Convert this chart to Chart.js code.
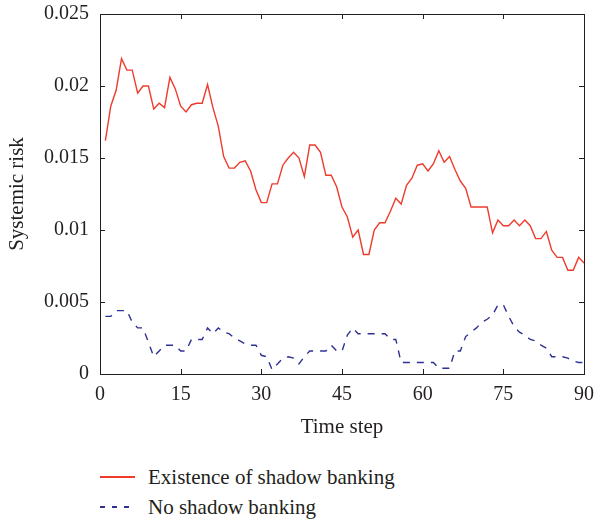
<!DOCTYPE html>
<html>
<head>
<meta charset="utf-8">
<script src="https://cdn.jsdelivr.net/npm/chart.js@4.4.1/dist/chart.umd.min.js"></script>
<style>
  html, body { margin: 0; padding: 0; background: #fff; }
  #wrap { position: relative; width: 595px; height: 523px; }
  #chartBox { position: absolute; left: 0; top: 0; width: 595px; height: 445px; }
  .legend-row {
    position: absolute; left: 100px; height: 24px;
    display: flex; align-items: center;
    font: 21px 'Liberation Serif', serif; color: #231f20;
  }
  .legend-line { width: 35px; height: 1.5px; margin-right: 13px; }
</style>
</head>
<body>
<div id="wrap">
  <div id="chartBox"><canvas id="riskChart"></canvas></div>
  <div id="riskLegend"></div>
</div>
<script>
// time steps 1..90
const steps = Array.from({ length: 90 }, (_, i) => i + 1);

const withShadow = [
  0.0162, 0.0186, 0.0197, 0.0219, 0.0211, 0.0211, 0.0195, 0.0200, 0.0200, 0.0184,
  0.0188, 0.0185, 0.0206, 0.0198, 0.0186, 0.0182, 0.0187, 0.0188, 0.0188, 0.0201,
  0.0185, 0.0172, 0.0151, 0.0143, 0.0143, 0.0147, 0.0148, 0.0141, 0.0128, 0.0119,
  0.0119, 0.0132, 0.0132, 0.0145, 0.0150, 0.0154, 0.0150, 0.0137, 0.0159, 0.0159,
  0.0154, 0.0138, 0.0138, 0.0130, 0.0116, 0.0109, 0.0095, 0.0100, 0.0083, 0.0083,
  0.0100, 0.0105, 0.0105, 0.0113, 0.0122, 0.0118, 0.0131, 0.0136, 0.0145, 0.0146,
  0.0141, 0.0146, 0.0155, 0.0147, 0.0151, 0.0142, 0.0134, 0.0129, 0.0116, 0.0116,
  0.0116, 0.0116, 0.0098, 0.0107, 0.0103, 0.0103, 0.0107, 0.0103, 0.0107, 0.0103,
  0.0094, 0.0094, 0.0099, 0.0086, 0.0081, 0.0081, 0.0072, 0.0072, 0.0081, 0.0077
];

const noShadow = [
  0.0040, 0.0040, 0.0044, 0.0044, 0.0044, 0.0036, 0.0032, 0.0032, 0.0022, 0.0012,
  0.0016, 0.0020, 0.0020, 0.0020, 0.0016, 0.0016, 0.0024, 0.0024, 0.0024, 0.0032,
  0.0028, 0.0032, 0.0029, 0.0028, 0.0025, 0.0023, 0.0021, 0.0020, 0.0020, 0.0013,
  0.0012, 0.0003, 0.0007, 0.0011, 0.0012, 0.0011, 0.0007, 0.0012, 0.0016, 0.0016,
  0.0016, 0.0016, 0.0020, 0.0016, 0.0016, 0.0027, 0.0032, 0.0028, 0.0028, 0.0028,
  0.0028, 0.0028, 0.0028, 0.0024, 0.0024, 0.0008, 0.0008, 0.0008, 0.0008, 0.0008,
  0.0008, 0.0008, 0.0004, 0.0004, 0.0004, 0.0016, 0.0016, 0.0026, 0.0029, 0.0032,
  0.0036, 0.0038, 0.0041, 0.0048, 0.0048, 0.0040, 0.0033, 0.0029, 0.0027, 0.0024,
  0.0023, 0.0020, 0.0018, 0.0012, 0.0012, 0.0012, 0.0011, 0.0009, 0.0008, 0.0008
];

const xTicks = [0, 15, 30, 45, 60, 75, 90];
const yTicks = [0, 0.005, 0.01, 0.015, 0.02, 0.025];

const seriesLabels = ['Existence of shadow banking', 'No shadow banking'];
const seriesColors = ['#ef3b2c', '#2e3192'];

const textColor = '#231f20';
const serif = "'Liberation Serif', 'Times New Roman', serif";

document.addEventListener('DOMContentLoaded', function () {
    initSystemicChart();
    buildLegend();
});

// small inward tick marks on all four sides of the frame
const innerTicks = {
  id: 'innerTicks',
  afterDraw(chart) {
    const { ctx, chartArea: { left, right, top, bottom }, scales: { x, y } } = chart;
    const len = 5;
    ctx.save();
    ctx.strokeStyle = textColor;
    ctx.lineWidth = 1;
    ctx.beginPath();
    xTicks.forEach(v => {
      const px = Math.round(x.getPixelForValue(v)) + 0.5;
      ctx.moveTo(px, bottom); ctx.lineTo(px, bottom - len);
      ctx.moveTo(px, top); ctx.lineTo(px, top + len);
    });
    yTicks.forEach(v => {
      const py = Math.round(y.getPixelForValue(v)) + 0.5;
      ctx.moveTo(left, py); ctx.lineTo(left + len, py);
      ctx.moveTo(right, py); ctx.lineTo(right - len, py);
    });
    ctx.stroke();
    ctx.restore();
  }
};

function initSystemicChart() {

    const canvas = document.getElementById('riskChart');
    if (!canvas) return;

    const hidden = {
      display: true,
      ticks: { display: false },
      grid: { display: false, drawTicks: false },
      border: { display: true, color: textColor, width: 1 }
    };

new Chart(canvas, {
  type: 'line',
  data: {
    datasets: [{
      label: seriesLabels[0],
      data: steps.map((t, i) => ({ x: t, y: withShadow[i] })),
      borderColor: seriesColors[0],
      borderWidth: 1.4,
      pointRadius: 0,
      tension: 0
    }, {
      label: seriesLabels[1],
      data: steps.map((t, i) => ({ x: t, y: noShadow[i] })),
      borderColor: seriesColors[1],
      borderWidth: 1.4,
      borderDash: [7, 7],
      pointRadius: 0,
      tension: 0
    }]
  },
  options: {
    responsive: true,
    maintainAspectRatio: false,
    animation: false,
    layout: { padding: { top: 14, right: 11, left: 0, bottom: 0 } },
    plugins: {
      legend: { display: false },
      tooltip: { enabled: false }
    },
    scales: {
      x: {
        type: 'linear',
        position: 'bottom',
        min: 0,
        max: 90,
        afterBuildTicks: s => { s.ticks = xTicks.map(v => ({ value: v })); },
        ticks: { color: textColor, font: { family: serif, size: 20 }, padding: 9, maxRotation: 0 },
        grid: { display: false, drawTicks: false },
        border: { display: true, color: textColor, width: 1 },
        title: {
          display: true, text: 'Time step', color: textColor,
          font: { family: serif, size: 21 }, padding: { top: 0, bottom: 5 }
        },
        afterFit: s => { s.height = 71; s.paddingLeft = 0; s.paddingRight = 0; }
      },
      y: {
        position: 'left',
        min: 0,
        max: 0.025,
        afterBuildTicks: s => { s.ticks = yTicks.map(v => ({ value: v })); },
        ticks: {
          color: textColor, font: { family: serif, size: 20 }, padding: 11,
          callback: v => String(+v.toFixed(3))
        },
        grid: { display: false, drawTicks: false },
        border: { display: true, color: textColor, width: 1 },
        title: {
          display: true, text: 'Systemic risk', color: textColor,
          font: { family: serif, size: 21 }, padding: { top: 5, bottom: 0 }
        },
        afterFit: s => { s.width = 100; s.paddingTop = 0; s.paddingBottom = 0; }
      },
      x2: Object.assign({ type: 'linear', position: 'top', min: 0, max: 90 }, hidden),
      y2: Object.assign({ type: 'linear', position: 'right', min: 0, max: 0.025 }, hidden)
    }
  },
  plugins: [innerTicks]
});
}

function buildLegend() {
    const box = document.getElementById('riskLegend');
    const rowTops = [465, 495];
    box.innerHTML = seriesLabels.map((label, i) => {
      const sample = i === 0
        ? `background:${seriesColors[i]}`
        : `background:repeating-linear-gradient(90deg, ${seriesColors[i]} 0 5px, transparent 5px 12px)`;
      return `<div class="legend-row" style="top:${rowTops[i]}px"><span class="legend-line" style="${sample}"></span>${label}</div>`;
    }).join('');
}
</script>
</body>
</html>
